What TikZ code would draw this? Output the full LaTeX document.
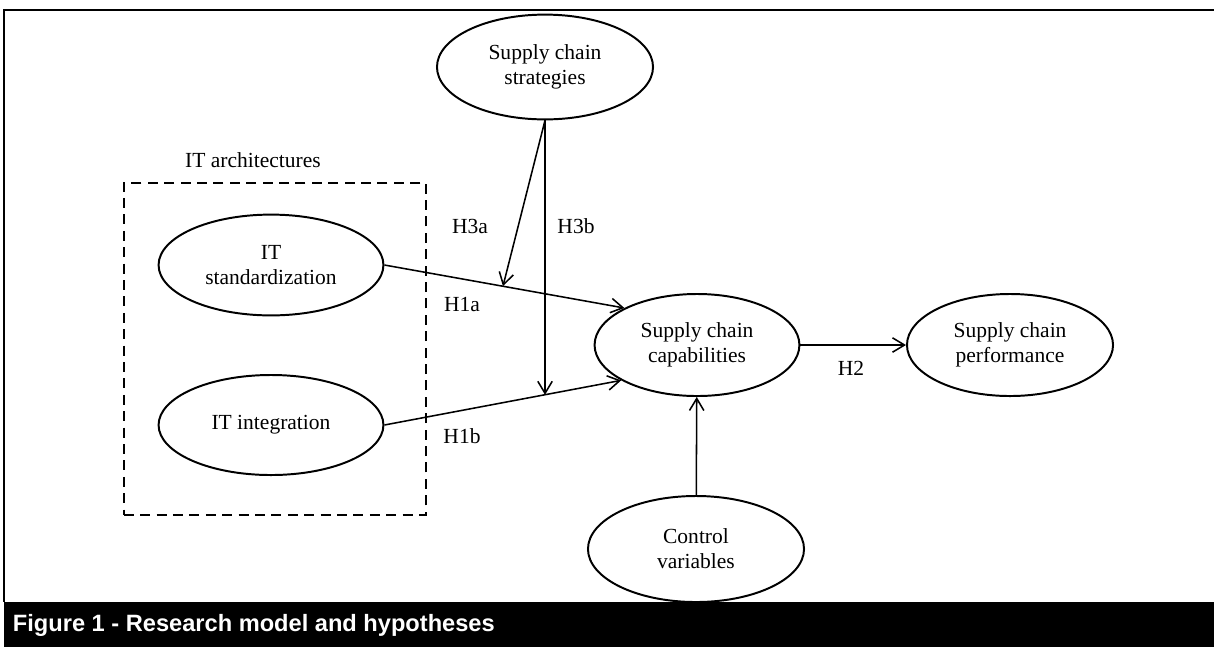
\documentclass[tikz,border=0pt]{standalone}
\usepackage{fontspec}
\setmainfont{Liberation Serif}
\newfontfamily\captionfont{Liberation Sans}
\usetikzlibrary{arrows.meta, positioning, calc, shapes.geometric}

\begin{document}
\begin{tikzpicture}[
    x=0.025cm, y=-0.025cm,
    >={Straight Barb[length=3mm, width=3.6mm]}, % open arrowheads
    construct/.style={draw, ellipse, line width=1.4pt, align=center, inner sep=0pt,
        font=\fontsize{15.3}{17.8}\selectfont}, % Style for the constructs
    hyp arrow/.style={->, line width=1.1pt}, % Style for hypothesis arrows
    hyp label/.style={font=\fontsize{15.3}{17.8}\selectfont}, % Labels H1a ... H3b
    group box/.style={draw, dashed, line width=1.1pt, dash pattern=on 2.5mm off 1.6mm}
]

    % === Page frame ===
    \useasboundingbox (0,0) rectangle (1214,647);
    \coordinate (frame_tl) at (4,10);
    \coordinate (frame_tr) at (1214,10);
    \coordinate (frame_bl) at (4,602);
    \draw[line width=1.4pt] (frame_tr) -- (frame_tl) -- (frame_bl);

    % === Caption bar ===
    \fill[black] (4,602) rectangle (1214,647);
    \node[anchor=west, text=white, font=\captionfont\bfseries\fontsize{16.8}{19}\selectfont] (caption) at (8,625) {Figure 1 - Research model and hypotheses};

    % === IT architectures group ===
    \node[group box, minimum width=7.55cm, minimum height=8.3cm, anchor=north west] (ITbox) at (123,182) {};
    \node[hyp label] (ITlabel) at (253,160) {IT architectures};

    % === Constructs ===
    \node[construct, minimum width=5.4cm, minimum height=2.62cm] (strat) at (545,67) {Supply chain\\strategies};
    \node[construct, minimum width=5.62cm, minimum height=2.52cm] (std) at (271,265) {IT\\standardization};
    \node[construct, minimum width=5.62cm, minimum height=2.5cm] (integ) at (271,425) {IT integration};
    \node[construct, minimum width=5.12cm, minimum height=2.55cm] (cap) at (697,345) {Supply chain\\capabilities};
    \node[construct, minimum width=5.15cm, minimum height=2.55cm] (perf) at (1010,345) {Supply chain\\performance};
    \node[construct, minimum width=5.4cm, minimum height=2.65cm] (ctrl) at (696,549) {Control\\variables};

    % ====== MAIN EFFECTS ======
    \draw[hyp arrow] (std.east) -- (cap.153);
    \draw[hyp arrow] (integ.east) -- (cap.205);
    \draw[hyp arrow] (cap) -- (perf);
    \draw[hyp arrow] (ctrl) -- (cap);

    % ====== MODERATION BY STRATEGIES ======
    \path (std.east) -- coordinate[pos=0.494] (h3a_end) (cap.153);
    \path (integ.east) -- coordinate[pos=0.676] (h3b_pt) (cap.205);
    \draw[hyp arrow] (strat.south) -- (h3a_end);
    \draw[hyp arrow] (strat.south) -- (strat.south |- h3b_pt);

    % Hypothesis labels
    \node[hyp label] (H3a) at (470,226) {H3a};
    \node[hyp label] (H3b) at (576,226) {H3b};
    \node[hyp label] (H1a) at (462,304) {H1a};
    \node[hyp label] (H1b) at (462,436) {H1b};
    \node[hyp label] (H2) at (851,368) {H2};

\end{tikzpicture}
\end{document}
